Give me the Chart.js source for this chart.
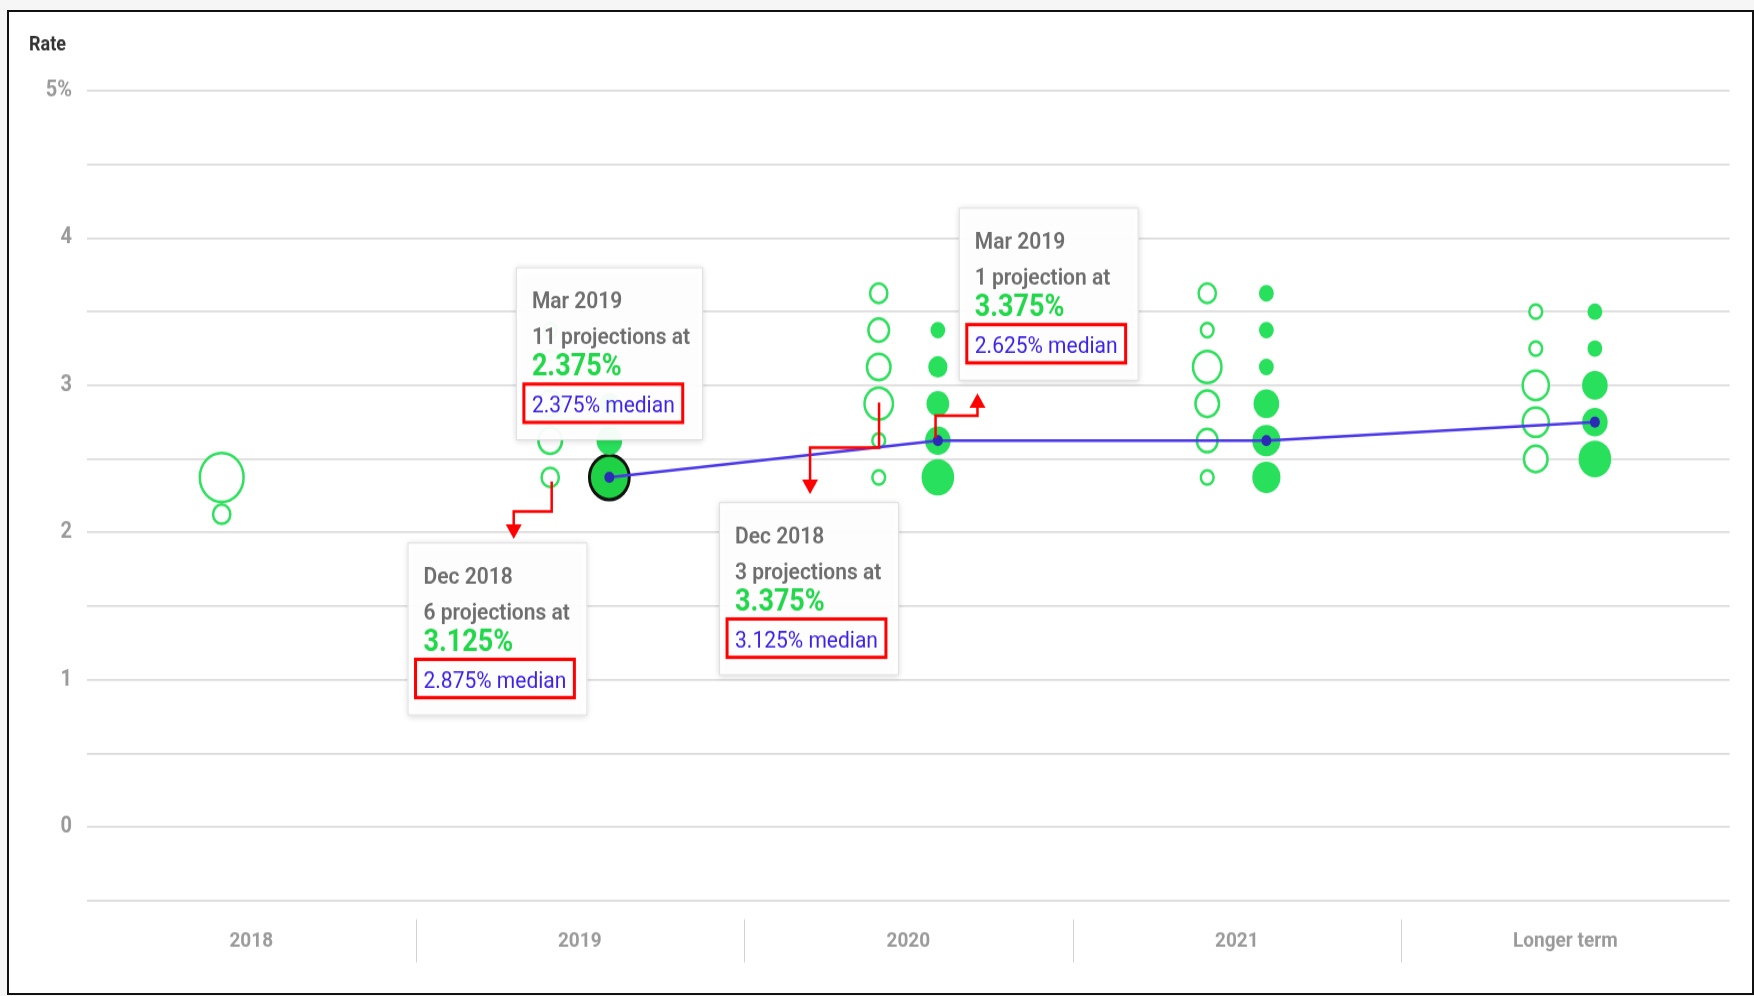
<!DOCTYPE html>
<html>
<head>
<meta charset="utf-8">
<script src="https://cdn.jsdelivr.net/npm/chart.js@4.4.1/dist/chart.umd.min.js"></script>
<style>
  html, body { margin: 0; padding: 0; background: #f6f6f6; }
  body { width: 1754px; height: 996px; position: relative; overflow: hidden; }
  #frame { position: absolute; left: 7px; top: 10px; width: 1747px; height: 985px;
           border: 2px solid #111; background: #fff; box-sizing: border-box; }
  /* the reference is stretched vertically, so the chart is too */
  #wrap { position: absolute; left: 0; top: 0; width: 1754px; height: 889px;
          transform: scaleY(1.1204); transform-origin: 0 0; }
</style>
</head>
<body>
<div id="frame"></div>
<div id="wrap"><canvas id="chart" width="1754" height="889"></canvas></div>
<script>
const categories = ['2018', '2019', '2020', '2021', 'Longer term'];

// Dec 2018 projections (hollow dots)
const decRates = [
  [2.125, 2.375],
  [2.375, 2.625, 2.875, 3.125, 3.375],
  [2.375, 2.625, 2.875, 3.125, 3.375, 3.625],
  [2.375, 2.625, 2.875, 3.125, 3.375, 3.625],
  [2.5, 2.75, 3.0, 3.25, 3.5]
];
const decCounts = [
  [2, 15],
  [2, 4, 4, 6, 1],
  [1, 1, 6, 4, 3, 2],
  [1, 3, 4, 6, 1, 2],
  [4, 5, 5, 1, 1]
];

// Mar 2019 projections (filled dots)
const marRates = [
  [],
  [2.375, 2.625, 2.875],
  [2.375, 2.625, 2.875, 3.125, 3.375],
  [2.375, 2.625, 2.875, 3.125, 3.375, 3.625],
  [2.5, 2.75, 3.0, 3.25, 3.5]
];
const marCounts = [
  [],
  [11, 4, 2],
  [7, 4, 3, 2, 1],
  [5, 5, 4, 1, 1, 1],
  [7, 4, 4, 1, 1]
];
const marMedian = [null, 2.375, 2.625, 2.625, 2.75];

const yTicks = [-0.5, 0, 0.5, 1, 1.5, 2, 2.5, 3, 3.5, 4, 4.5, 5];

const notes = [
  { x: 0.8055, y: 3.802, title: 'Mar 2019', line2: '11 projections at', big: '2.375%', median: '2.375% median' },
  { x: 0.4757, y: 1.933, title: 'Dec 2018', line2: '6 projections at', big: '3.125%', median: '2.875% median' },
  { x: 1.424, y: 2.207, title: 'Dec 2018', line2: '3 projections at', big: '3.375%', median: '3.125% median' },
  { x: 2.1537, y: 4.206, title: 'Mar 2019', line2: '1 projection at', big: '3.375%', median: '2.625% median' }
];
const arrows = [
  [[0.9145, 2.347], [0.9145, 2.144], [0.7989, 2.144], [0.7989, 1.957]],
  [[1.911, 2.883], [1.911, 2.578], [1.701, 2.578], [1.701, 2.262]],
  [[2.083, 2.642], [2.083, 2.793], [2.2106, 2.793], [2.2106, 2.947]]
];

const COL = 0.09;
const rOf = n => 2 + 5.4 * Math.sqrt(n);
const FONT = 'Roboto, "Noto Sans", sans-serif';

const hollowPts = [];
decRates.forEach((list, i) => list.forEach((v, j) => {
  hollowPts.push({ x: i - COL, y: v, r: rOf(decCounts[i][j]) - 1 });
}));
const filledPts = [];
marRates.forEach((list, i) => list.forEach((v, j) => {
  filledPts.push({ x: i + COL, y: v, r: rOf(marCounts[i][j]), hl: i === 1 && v === 2.375 });
}));
const medianPts = [];
marMedian.forEach((v, i) => { if (v !== null) medianPts.push({ x: i + COL, y: v }); });

const overlay = {
  id: 'overlay',
  afterDraw(chart) {
    const ctx = chart.ctx;
    const xs = chart.scales.x, ys = chart.scales.y;
    const area = chart.chartArea;
    ctx.save();

    // category separators below the plot
    ctx.strokeStyle = '#d2d2d2';
    ctx.lineWidth = 1;
    for (let i = 0; i < categories.length - 1; i++) {
      const px = Math.round(xs.getPixelForValue(i + 0.5)) + 0.5;
      ctx.beginPath();
      ctx.moveTo(px, area.bottom + 16.6);
      ctx.lineTo(px, area.bottom + 55);
      ctx.stroke();
    }

    // axis title
    ctx.fillStyle = '#333';
    ctx.font = '700 18px ' + FONT;
    ctx.textBaseline = 'alphabetic';
    ctx.fillText('Rate', 29, 45.3);

    // callout boxes
    notes.forEach(n => {
      const left = xs.getPixelForValue(n.x);
      const top = ys.getPixelForValue(n.y);
      ctx.font = '400 21px ' + FONT;
      const mw = ctx.measureText(n.median).width;
      ctx.font = '600 21px ' + FONT;
      const lw = ctx.measureText(n.line2).width;
      const w = 16 + Math.max(lw, mw + 8) + 13;
      const h = 154.5;

      ctx.save();
      ctx.shadowColor = 'rgba(0,0,0,0.16)';
      ctx.shadowBlur = 6;
      ctx.shadowOffsetY = 1;
      ctx.fillStyle = 'rgba(255,255,255,0.95)';
      ctx.fillRect(left, top, w, h);
      ctx.restore();
      ctx.strokeStyle = '#dedede';
      ctx.lineWidth = 1;
      ctx.strokeRect(left + 0.5, top + 0.5, w - 1, h - 1);

      const tx = left + 16;
      ctx.fillStyle = '#6d6d6d';
      ctx.font = '600 21px ' + FONT;
      ctx.fillText(n.title, tx, top + 37);
      ctx.fillText(n.line2, tx, top + 69);
      ctx.fillStyle = '#22d84a';
      ctx.font = '700 27px ' + FONT;
      ctx.fillText(n.big, tx, top + 97);
      ctx.fillStyle = '#3d22e4';
      ctx.font = '400 21px ' + FONT;
      ctx.fillText(n.median, tx, top + 129.7);
      ctx.strokeStyle = '#ff0000';
      ctx.lineWidth = 3;
      ctx.strokeRect(tx - 8, top + 104.3, mw + 16, 34.2);
    });

    // red arrows
    ctx.strokeStyle = '#ff0000';
    ctx.fillStyle = '#ff0000';
    ctx.lineWidth = 2.5;
    arrows.forEach(a => {
      const pts = a.map(p => [xs.getPixelForValue(p[0]), ys.getPixelForValue(p[1])]);
      const tip = pts[pts.length - 1];
      const prev = pts[pts.length - 2];
      const dir = tip[1] > prev[1] ? 1 : -1;
      const baseY = tip[1] - dir * 13;
      ctx.beginPath();
      ctx.moveTo(pts[0][0], pts[0][1]);
      for (let k = 1; k < pts.length - 1; k++) ctx.lineTo(pts[k][0], pts[k][1]);
      ctx.lineTo(tip[0], baseY);
      ctx.stroke();
      ctx.beginPath();
      ctx.moveTo(tip[0] - 8, baseY);
      ctx.lineTo(tip[0] + 8, baseY);
      ctx.lineTo(tip[0], tip[1]);
      ctx.closePath();
      ctx.fill();
    });

    ctx.restore();
  }
};

new Chart(document.getElementById('chart').getContext('2d'), {
  type: 'bubble',
  data: {
    datasets: [
      {
        type: 'line',
        label: 'Mar 2019 median',
        data: medianPts,
        borderColor: '#4a37e6',
        borderWidth: 2.5,
        pointRadius: 5,
        pointBackgroundColor: '#2b2bb6',
        pointBorderWidth: 0,
        order: 0
      },
      {
        label: 'Mar 2019',
        data: filledPts,
        backgroundColor: c => (c.raw && c.raw.hl ? '#1fd245' : '#28e05b'),
        borderColor: c => (c.raw && c.raw.hl ? '#111' : '#28e05b'),
        borderWidth: c => (c.raw && c.raw.hl ? 3 : 0),
        order: 1
      },
      {
        label: 'Dec 2018',
        data: hollowPts,
        backgroundColor: '#ffffff',
        borderColor: '#30e05e',
        borderWidth: 2.5,
        order: 2
      }
    ]
  },
  options: {
    responsive: false,
    animation: false,
    events: [],
    layout: { padding: { top: 81, right: 24, bottom: 0, left: 0 } },
    plugins: { legend: { display: false }, tooltip: { enabled: false } },
    scales: {
      x: {
        type: 'linear',
        min: -0.5,
        max: 4.5,
        afterBuildTicks: s => { s.ticks = categories.map((c, i) => ({ value: i })); },
        afterFit: s => { s.height = 85; },
        grid: { display: false },
        border: { display: false },
        ticks: {
          callback: v => categories[v],
          color: '#9a9a9a',
          font: { family: FONT, size: 19, weight: '700' },
          padding: 17,
          maxRotation: 0,
          autoSkip: false
        }
      },
      y: {
        type: 'linear',
        min: -0.5,
        max: 5,
        afterBuildTicks: s => { s.ticks = yTicks.map(v => ({ value: v })); },
        afterFit: s => { s.width = 87; },
        grid: { color: '#dcdcdc', lineWidth: 1.8, drawTicks: false },
        border: { display: false },
        ticks: {
          callback: v => (v === 5 ? '5%' : Number.isInteger(v) ? String(v) : ''),
          color: '#9a9a9a',
          font: { family: FONT, size: 20, weight: '700' },
          padding: 15
        }
      }
    }
  },
  plugins: [overlay]
});
</script>
</body>
</html>
